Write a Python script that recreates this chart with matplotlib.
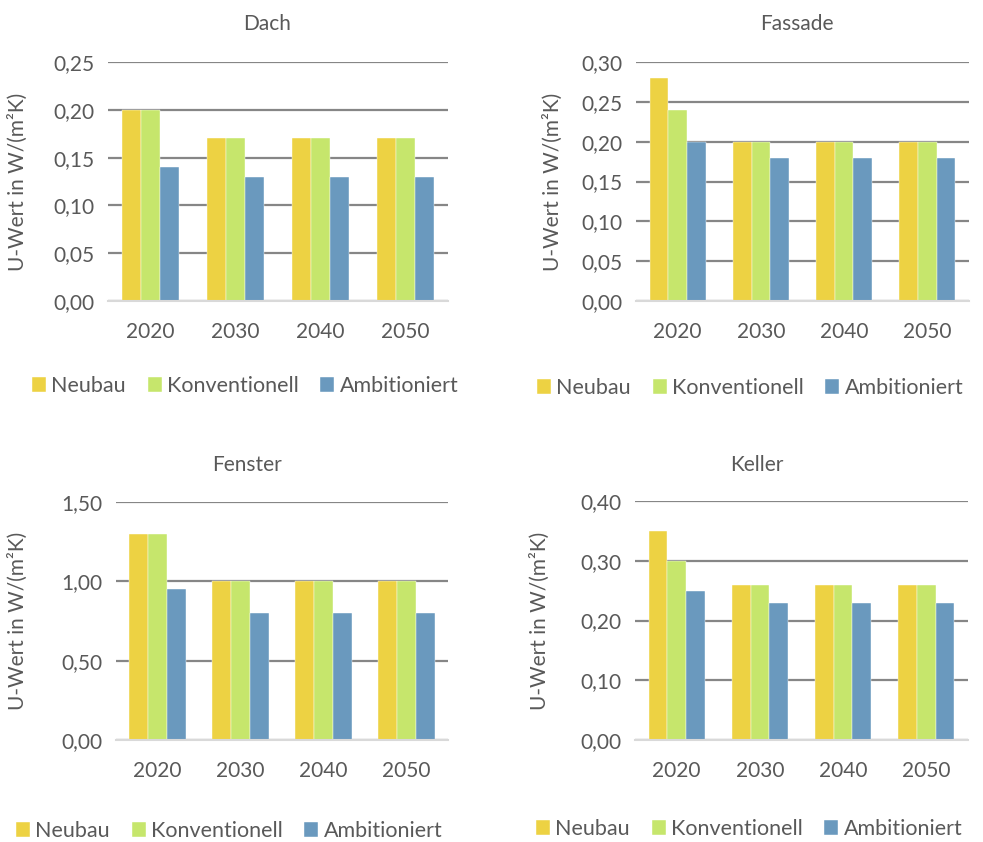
import numpy as np
import matplotlib
matplotlib.use("Agg")
import matplotlib.pyplot as plt
from matplotlib.ticker import FuncFormatter

plt.rcParams['font.family'] = ['Lato', 'DejaVu Sans']

years = ["2020", "2030", "2040", "2050"]
series = ["Neubau", "Konventionell", "Ambitioniert"]
colors = ["#EDD243", "#C6E66C", "#6A99BE"]

dach_neubau = [0.20, 0.17, 0.17, 0.17]
dach_konv = [0.20, 0.17, 0.17, 0.17]
dach_amb = [0.14, 0.13, 0.13, 0.13]

fassade_neubau = [0.28, 0.20, 0.20, 0.20]
fassade_konv = [0.24, 0.20, 0.20, 0.20]
fassade_amb = [0.20, 0.18, 0.18, 0.18]

fenster_neubau = [1.30, 1.00, 1.00, 1.00]
fenster_konv = [1.30, 1.00, 1.00, 1.00]
fenster_amb = [0.95, 0.80, 0.80, 0.80]

keller_neubau = [0.35, 0.26, 0.26, 0.26]
keller_konv = [0.30, 0.26, 0.26, 0.26]
keller_amb = [0.25, 0.23, 0.23, 0.23]

W, H = 983, 842
fig = plt.figure(figsize=(W / 100, H / 100), dpi=100)

txtc = "#595959"
fs = 15

def px_axes(x0, x1, ytop, ybot):
    return fig.add_axes([x0 / W, 1 - ybot / H, (x1 - x0) / W, (ybot - ytop) / H])

# (title, data, ymax, step, axes box px, title pos, ylabel x, legend pos)
panels = [
    ("Dach", (dach_neubau, dach_konv, dach_amb), 0.25, 0.05,
     (108, 448, 62, 301), (267, 24), 18, (32, 386)),
    ("Fassade", (fassade_neubau, fassade_konv, fassade_amb), 0.30, 0.05,
     (636, 969, 62, 301), (797, 24), 553, (537, 388)),
    ("Fenster", (fenster_neubau, fenster_konv, fenster_amb), 1.50, 0.50,
     (116, 448, 502, 740), (247, 465), 18, (16, 831)),
    ("Keller", (keller_neubau, keller_konv, keller_amb), 0.40, 0.10,
     (635, 968, 501, 740), (757, 465), 540, (536, 829)),
]

x = np.arange(len(years))
bw = 0.225

for title, data, ymax, step, box, tpos, ylx, lpos in panels:
    ax = px_axes(*box)
    for i, (vals, c) in enumerate(zip(data, colors)):
        ax.bar(x + (i - 1) * bw, vals, bw, color=c, label=series[i], zorder=3,
               edgecolor="white", linewidth=0.3)
    ax.set_xlim(-0.5, len(years) - 0.5)
    ax.set_ylim(0, ymax)
    ticks = np.arange(0, ymax + step / 2, step)
    ax.set_yticks(ticks)
    ax.yaxis.set_major_formatter(FuncFormatter(lambda v, p: ("%.2f" % v).replace(".", ",")))
    ax.set_xticks(x)
    ax.set_xticklabels(years)
    ax.grid(axis="y", color="#868686", linewidth=1.6, zorder=0)
    for s in ["top", "right", "left"]:
        ax.spines[s].set_visible(False)
    ax.spines["bottom"].set_color("#D9D9D9")
    ax.spines["bottom"].set_linewidth(1.5)
    ax.spines["bottom"].set_zorder(4)
    ax.tick_params(axis="both", length=0, labelsize=fs, labelcolor=txtc)
    ax.tick_params(axis="y", pad=10)
    ax.tick_params(axis="x", pad=15)
    fig.text(tpos[0] / W, 1 - tpos[1] / H, title, ha="center", va="center",
             fontsize=fs, color=txtc)
    yc = (box[2] + box[3]) / 2
    fig.text(ylx / W, 1 - yc / H, "U-Wert in W/(m²K)", rotation=90,
             ha="center", va="center", fontsize=fs, color=txtc)
    ax.legend(loc="center left", bbox_to_anchor=(lpos[0] / W, 1 - lpos[1] / H),
              bbox_transform=fig.transFigure, ncol=3, frameon=False,
              fontsize=15.5, labelcolor=txtc, handlelength=0.65, handleheight=0.65,
              handletextpad=0.25, columnspacing=1.0, borderaxespad=0,
              borderpad=0)

fig.savefig("out.png", dpi=100)
